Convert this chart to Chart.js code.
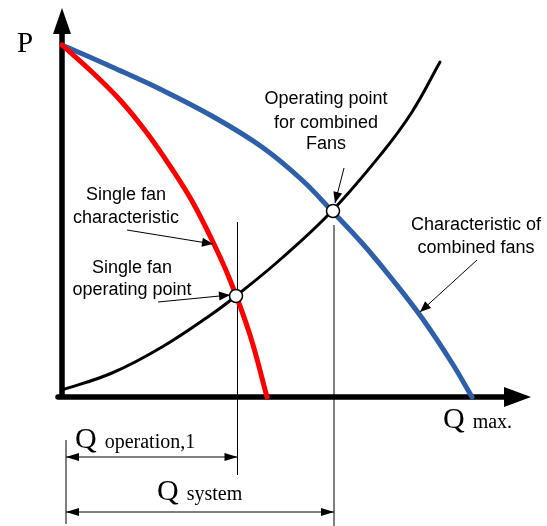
<!DOCTYPE html>
<html>
<head>
<meta charset="utf-8">
<script src="https://cdn.jsdelivr.net/npm/chart.js@4"></script>
<style>
  body { margin: 0; background: #fff; }
  #fanChart { display: block; }
</style>
</head>
<body>
<canvas id="fanChart" width="547" height="526"></canvas>
<script>
// Curves (Q = flow, P = pressure, arbitrary units)
const singleFanQ = [0, 30, 58, 85, 110, 130, 150, 168, 188, 205];
const singleFanP = [352, 325, 297, 264, 228, 196, 157, 117, 62, 0];

const combinedQ = [0, 50, 100, 150, 200, 240, 270, 300, 330, 360, 390, 410];
const combinedP = [352, 330, 307, 281, 250, 217, 186, 154, 118, 79, 34, 0];

const systemQ = [0, 50, 100, 150, 174, 220, 270, 320, 350, 378];
const systemP = [7, 24, 50, 83, 101, 139, 186, 244, 285, 335];

// operating points: single fan, combined fans
const operatingQ = [174, 271];
const operatingP = [101, 186];

const BLUE = '#2d5faa';
const RED = '#ff0000';

function toPoints(xs, ys) {
  return xs.map((x, i) => ({ x: x, y: ys[i] }));
}

function drawArrowHead(ctx, x1, y1, x2, y2, len, half) {
  const a = Math.atan2(y2 - y1, x2 - x1);
  ctx.beginPath();
  ctx.moveTo(x2, y2);
  ctx.lineTo(x2 - len * Math.cos(a) + half * Math.sin(a), y2 - len * Math.sin(a) - half * Math.cos(a));
  ctx.lineTo(x2 - len * Math.cos(a) - half * Math.sin(a), y2 - len * Math.sin(a) + half * Math.cos(a));
  ctx.closePath();
  ctx.fill();
}

// labels with leader arrows: text lines (center x, baselines) and arrow from -> to, all in chart units
const callouts = [
  { lines: ['Operating point', 'for combined', 'Fans'], x: 264, y: [293, 269, 248], from: [282, 229], to: [273, 194] },
  { lines: ['Characteristic of', 'combined fans'], x: 414, y: [167, 144], from: [415, 137], to: [358, 85] },
  { lines: ['Single fan', 'characteristic'], x: 64, y: [197, 174], from: [65, 167], to: [151, 153] },
  { lines: ['Single fan', 'operating point'], x: 70, y: [124, 102], from: [96, 95], to: [168, 102] }
];

const diagramPlugin = {
  id: 'diagram',
  beforeDatasetsDraw(chart) {
    const ctx = chart.ctx;
    const xs = chart.scales.x, ys = chart.scales.y;
    const px = v => xs.getPixelForValue(v);
    const py = v => ys.getPixelForValue(v);
    ctx.save();
    ctx.strokeStyle = '#000';
    ctx.fillStyle = '#000';
    ctx.lineWidth = 1;

    // thin extension lines
    ctx.beginPath();
    ctx.moveTo(px(operatingQ[0]) + 1.5, py(175)); ctx.lineTo(px(operatingQ[0]) + 1.5, py(-78));
    ctx.moveTo(px(operatingQ[1]) + 1, py(172)); ctx.lineTo(px(operatingQ[1]) + 1, py(-129));
    ctx.moveTo(px(4), py(-43)); ctx.lineTo(px(4), py(-127));
    ctx.stroke();

    // dimension arrows
    const dims = [[-60, operatingQ[0] + 1.5], [-115, operatingQ[1] + 1]];
    dims.forEach(d => {
      const y = py(d[0]);
      const x1 = px(4), x2 = px(d[1]);
      ctx.beginPath();
      ctx.moveTo(x1, y); ctx.lineTo(x2, y);
      ctx.stroke();
      drawArrowHead(ctx, x2, y, x1, y, 13, 4);
      drawArrowHead(ctx, x1, y, x2, y, 13, 4);
    });

    // axes
    ctx.lineWidth = 5.5;
    ctx.lineCap = 'round';
    ctx.beginPath();
    ctx.moveTo(px(0), py(0)); ctx.lineTo(px(0), py(366));
    ctx.moveTo(px(-4), py(0)); ctx.lineTo(px(445), py(0));
    ctx.stroke();
    ctx.lineCap = 'butt';
    drawArrowHead(ctx, px(0), py(300), px(0), py(389), 26, 9);
    drawArrowHead(ctx, px(300), py(0), px(469), py(0), 27, 10);
    ctx.restore();
  },
  afterDatasetsDraw(chart) {
    const ctx = chart.ctx;
    const xs = chart.scales.x, ys = chart.scales.y;
    const px = v => xs.getPixelForValue(v);
    const py = v => ys.getPixelForValue(v);
    ctx.save();
    ctx.fillStyle = '#000';
    ctx.strokeStyle = '#000';

    // callout texts and leader arrows
    ctx.font = '18px "Liberation Sans", Arial, sans-serif';
    ctx.textAlign = 'center';
    ctx.textBaseline = 'alphabetic';
    callouts.forEach(c => {
      c.lines.forEach((t, i) => ctx.fillText(t, px(c.x), py(c.y[i])));
      ctx.lineWidth = 1;
      ctx.beginPath();
      ctx.moveTo(px(c.from[0]), py(c.from[1]));
      ctx.lineTo(px(c.to[0]), py(c.to[1]));
      ctx.stroke();
      drawArrowHead(ctx, px(c.from[0]), py(c.from[1]), px(c.to[0]), py(c.to[1]), 11, 4.5);
    });

    // serif axis symbols
    ctx.textAlign = 'left';
    const serif = '"Liberation Serif", "Times New Roman", serif';
    ctx.font = '29px ' + serif;
    ctx.fillText('P', px(-45), py(345));
    const qLabels = [
      { sub: 'operation,1', x: 13, y: -51 },
      { sub: 'system', x: 95, y: -103 },
      { sub: 'max.', x: 381, y: -31 }
    ];
    qLabels.forEach(l => {
      ctx.font = '30px ' + serif;
      ctx.fillText('Q', px(l.x), py(l.y));
      const w = ctx.measureText('Q').width;
      ctx.font = '20px ' + serif;
      ctx.fillText(l.sub, px(l.x) + w + 8, py(l.y));
    });
    ctx.restore();
  }
};

const curveStyle = {
  borderCapStyle: 'round',
  borderJoinStyle: 'round',
  tension: 0.4,
  pointRadius: 0
};

new Chart(document.getElementById('fanChart'), {
  type: 'line',
  data: {
    datasets: [
      {
        label: 'Operating points',
        data: toPoints(operatingQ, operatingP),
        showLine: false,
        pointRadius: 6.5,
        pointBackgroundColor: '#fff',
        pointBorderColor: '#000',
        pointBorderWidth: 1.5
      },
      Object.assign({
        label: 'Single fan characteristic',
        data: toPoints(singleFanQ, singleFanP),
        borderColor: RED,
        borderWidth: 5
      }, curveStyle),
      Object.assign({
        label: 'System',
        data: toPoints(systemQ, systemP),
        borderColor: '#000',
        borderWidth: 3
      }, curveStyle),
      Object.assign({
        label: 'Characteristic of combined fans',
        data: toPoints(combinedQ, combinedP),
        borderColor: BLUE,
        borderWidth: 5
      }, curveStyle)
    ]
  },
  options: {
    responsive: false,
    animation: false,
    layout: { padding: 0, autoPadding: false },
    scales: {
      x: { type: 'linear', min: -62, max: 485, display: false },
      y: { type: 'linear', min: -129, max: 397, display: false }
    },
    plugins: {
      legend: { display: false },
      tooltip: { enabled: false }
    }
  },
  plugins: [diagramPlugin]
});
</script>
</body>
</html>
